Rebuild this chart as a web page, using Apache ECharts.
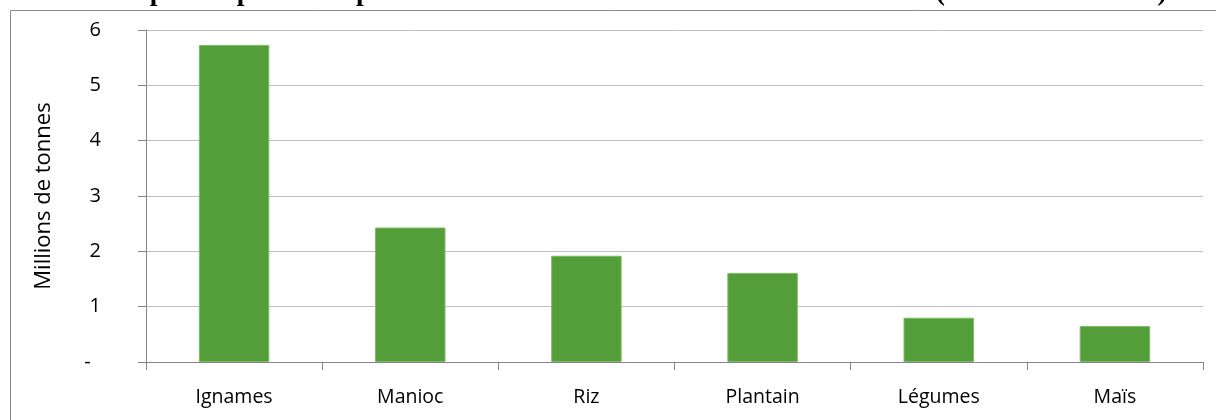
<!DOCTYPE html>
<html>
<head>
<meta charset="utf-8">
<script src="https://cdn.jsdelivr.net/npm/echarts@6/dist/echarts.min.js"></script>
<style>
html,body{margin:0;padding:0;background:#fff;}
#chart{width:1216px;height:420px;}
</style>
</head>
<body>
<div id="chart"></div>
<script>
const titleText = "Les plus importantes productions vivrières de la Côte d'Ivoire en 2015 (millions de tonnes)";
const yAxisName = "Millions de tonnes";
const categories = ["Ignames", "Manioc", "Riz", "Plantain", "Légumes", "Maïs"];
const production = [5.73, 2.43, 1.92, 1.61, 0.80, 0.65];
const yTicks = [0, 1, 2, 3, 4, 5, 6];

const chart = echarts.init(document.getElementById('chart'), null, {renderer: 'canvas'});
const font = '"Open Sans", "Lato", sans-serif';
chart.setOption({
  animation: false,
  backgroundColor: '#ffffff',
  graphic: [
    {type: 'rect', shape: {x: 10.5, y: 10.5, width: 1240, height: 440},
     style: {fill: 'none', stroke: '#8c8c8c', lineWidth: 1}, z: -1},
    {type: 'text', x: 634, y: 7,
     style: {text: titleText, font: 'bold 27.7px "Liberation Serif"', textAlign: 'center', textVerticalAlign: 'bottom', fill: '#000'}}
  ],
  grid: {left: 146, right: 13, top: 30, bottom: 58, containLabel: false},
  xAxis: {
    type: 'category',
    data: categories,
    boundaryGap: true,
    axisLine: {lineStyle: {color: '#868686', width: 1}},
    axisTick: {show: true, length: 8, lineStyle: {color: '#868686'}},
    axisLabel: {color: '#000', fontFamily: font, fontSize: 19.5, margin: 25}
  },
  yAxis: {
    type: 'value',
    min: yTicks[0],
    max: yTicks[yTicks.length - 1],
    interval: 1,
    name: yAxisName,
    nameLocation: 'middle',
    nameRotate: 90,
    nameGap: 91,
    nameTextStyle: {color: '#000', fontFamily: font, fontSize: 22},
    axisLine: {show: true, lineStyle: {color: '#868686', width: 1}},
    axisTick: {show: true, length: 8, lineStyle: {color: '#868686'}},
    axisLabel: {color: '#000', fontFamily: font, fontSize: 20, margin: 45,
      formatter: v => v === 0 ? '-  ' : String(v)},
    splitLine: {show: true, lineStyle: {color: '#bdbdbd', width: 1}}
  },
  series: [{
    type: 'bar',
    data: production,
    barWidth: '40%',
    itemStyle: {color: '#549e39', borderColor: '#7dbb62', borderWidth: 1}
  }]
});
</script>
</body>
</html>
